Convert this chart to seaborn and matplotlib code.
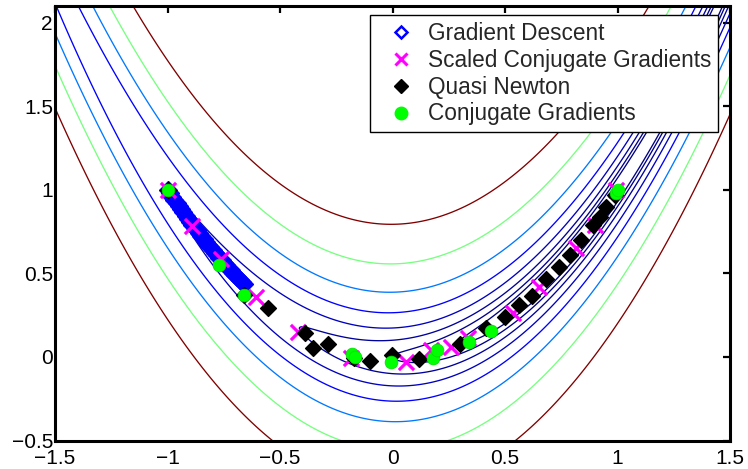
import numpy as np
import pandas as pd
import seaborn as sns
import matplotlib
matplotlib.use("Agg")
import matplotlib.pyplot as plt
from matplotlib.lines import Line2D
from matplotlib.colors import Normalize

# ---- data ----
contour_levels = [0.5, 1, 2, 4, 8, 16, 32, 64]

gd_x = [-1.00, -0.99, -0.98, -0.97, -0.96, -0.95, -0.94, -0.93, -0.92, -0.91,
        -0.90, -0.89, -0.88, -0.87, -0.86, -0.85, -0.84, -0.83, -0.82, -0.81,
        -0.80, -0.79, -0.78, -0.77, -0.76, -0.75, -0.74, -0.73, -0.72, -0.71,
        -0.70, -0.69, -0.68, -0.67, -0.66]
gd_y = [1.000, 0.980, 0.960, 0.941, 0.922, 0.903, 0.884, 0.865, 0.846, 0.828,
        0.810, 0.792, 0.774, 0.757, 0.740, 0.723, 0.706, 0.689, 0.672, 0.656,
        0.640, 0.624, 0.608, 0.593, 0.578, 0.563, 0.548, 0.533, 0.518, 0.504,
        0.490, 0.476, 0.462, 0.449, 0.436]

scg_x = [-1.0, -0.893, -0.762, -0.606, -0.421, -0.184, 0.061, 0.172, 0.261, 0.335,
         0.535, 0.653, 0.816, 0.898, 0.994]
scg_y = [1.0, 0.784, 0.585, 0.361, 0.152, -0.008, -0.028, 0.042, 0.062, 0.112,
         0.262, 0.421, 0.651, 0.790, 1.0]

qn_x = [-1.0, -0.658, -0.554, -0.391, -0.354, -0.287, -0.169, -0.102, -0.001, 0.117,
        0.298, 0.416, 0.498, 0.564, 0.621, 0.683, 0.742, 0.790, 0.839, 0.890,
        0.920, 0.950, 0.987]
qn_y = [1.0, 0.371, 0.292, 0.146, 0.052, 0.076, -0.008, -0.022, 0.012, -0.014,
        0.076, 0.172, 0.241, 0.311, 0.365, 0.465, 0.541, 0.611, 0.701, 0.790,
        0.840, 0.900, 0.970]

cg_x = [-1.0, -0.773, -0.658, -0.178, -0.165, -0.006, 0.179, 0.197, 0.338, 0.439, 0.994, 1.0]
cg_y = [1.0, 0.551, 0.371, 0.018, -0.002, -0.032, -0.004, 0.042, 0.092, 0.157, 0.984, 1.0]

legend_labels = ["Gradient Descent", "Scaled Conjugate Gradients", "Quasi Newton", "Conjugate Gradients"]
x_ticks = [-1.5, -1, -0.5, 0, 0.5, 1, 1.5]
x_tick_labels = ["\u22121.5", "\u22121", "\u22120.5", "0", "0.5", "1", "1.5"]
y_ticks = [-0.5, 0, 0.5, 1, 1.5, 2]
y_tick_labels = ["\u22120.5", "0", "0.5", "1", "1.5", "2"]

# ---- figure ----
sns.set_theme(style="white")
plt.rcParams["font.family"] = ["Liberation Sans", "DejaVu Sans"]

fig = plt.figure(figsize=(7.48, 4.69), dpi=100)
ax = fig.add_axes([55 / 748, 28.5 / 469, 675 / 748, 434.5 / 469])

# Rosenbrock function surface for contour lines
gx = np.linspace(-1.5, 1.5, 601)
gy = np.linspace(-0.5, 2.1, 521)
X, Y = np.meshgrid(gx, gy)
Z = (1 - X) ** 2 + 100 * (Y - X ** 2) ** 2
ax.contour(X, Y, Z, levels=contour_levels, cmap="jet",
           norm=Normalize(vmin=min(contour_levels), vmax=max(contour_levels)),
           linewidths=0.95)

gd_df = pd.DataFrame({"x": gd_x, "y": gd_y})
sns.lineplot(data=gd_df, x="x", y="y", ax=ax, sort=False, estimator=None,
             linestyle="none", marker="D", markersize=9,
             color="#0000ff", markerfacecolor="#0000ff", markeredgecolor="#0000ff",
             markeredgewidth=1.0, zorder=3)
sns.scatterplot(x=scg_x, y=scg_y, ax=ax, marker="x", s=120, color="#ff00ff",
                linewidth=2.3, zorder=4)
sns.scatterplot(x=qn_x, y=qn_y, ax=ax, marker="D", s=65, color="black",
                edgecolor="black", linewidth=1, zorder=5)
sns.scatterplot(x=cg_x, y=cg_y, ax=ax, marker="o", s=85, color="#00ff00",
                edgecolor="#00dd00", linewidth=0.5, zorder=6)

ax.set_xlim(-1.5, 1.5)
ax.set_ylim(-0.5, 2.1)
ax.set_xticks(x_ticks)
ax.set_xticklabels(x_tick_labels)
ax.set_yticks(y_ticks)
ax.set_yticklabels(y_tick_labels)
ax.tick_params(direction="in", length=5, width=1.6, top=True, right=True,
               labelsize=15, colors="black")
ax.tick_params(axis="x", pad=6)
ax.tick_params(axis="y", pad=1.5)
for sp in ax.spines.values():
    sp.set_color("black")
    sp.set_linewidth(2.2)
ax.set_xlabel("")
ax.set_ylabel("")
ax.grid(False)

handles = [
    Line2D([], [], linestyle="none", marker="D", markersize=6, markerfacecolor="none",
           markeredgecolor="#0000ff", markeredgewidth=1.8),
    Line2D([], [], linestyle="none", marker="x", markersize=8, color="#ff00ff",
           markeredgewidth=2.2),
    Line2D([], [], linestyle="none", marker="D", markersize=7, color="black"),
    Line2D([], [], linestyle="none", marker="o", markersize=9, color="#00ff00"),
]
leg = ax.legend(handles, legend_labels, loc="upper right",
                bbox_to_anchor=(0.982, 0.979), borderaxespad=0,
                fontsize=16.3, frameon=True, fancybox=False, framealpha=1,
                edgecolor="black", handlelength=2.1, handletextpad=0.15,
                labelspacing=0.17, borderpad=0.3)
leg.get_frame().set_linewidth(1.0)

fig.savefig("out.png", dpi=100)
